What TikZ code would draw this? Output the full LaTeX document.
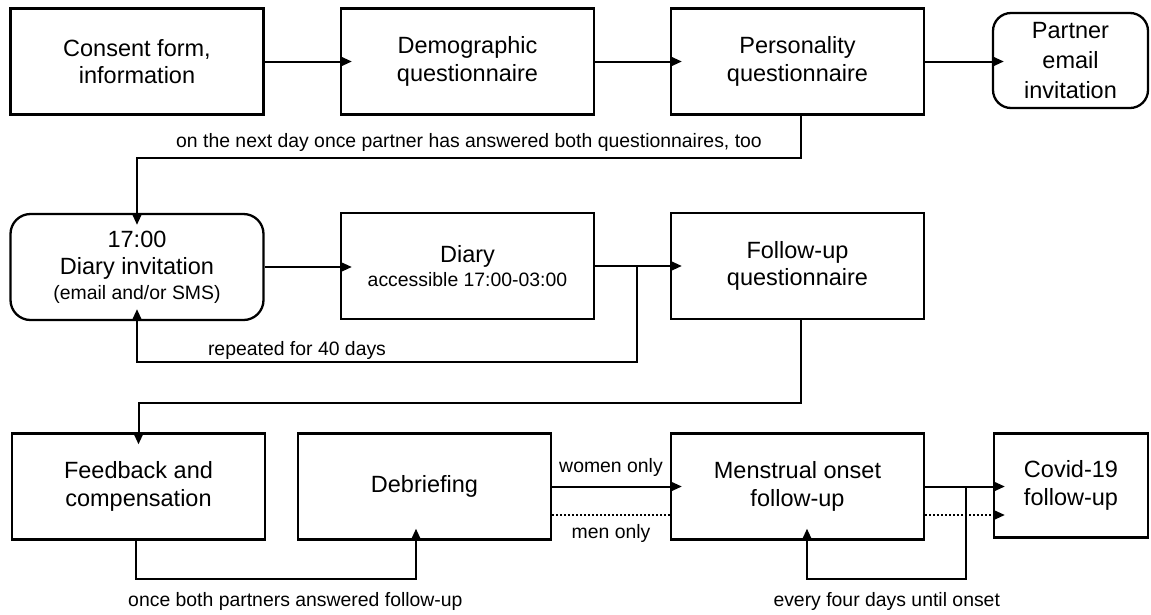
\documentclass[tikz,border=0pt]{standalone}
\usepackage{fontspec}
\setmainfont{Liberation Sans}
\usetikzlibrary{arrows.meta,calc}
\newcommand\bigf{\fontsize{23.5}{27.5}\selectfont}
\newcommand\smf{\fontsize{19.4}{23}\selectfont}
\begin{document}
\begin{tikzpicture}[x=1pt,y=-1pt,
  box/.style={draw, line width=2.3pt, fill=white, minimum width=253pt, minimum height=106pt, align=center, font=\bigf, inner sep=0pt},
  rbox/.style={box, rounded corners=18pt},
  conn/.style={line width=2pt},
  arr/.style={conn, -{Triangle[length=10pt,width=8.5pt]}, shorten >=-12pt},
  dot/.style={conn, dash pattern=on 2pt off 2pt},
  lab/.style={font=\smf, inner sep=1pt}
]
\useasboundingbox (0,0) rectangle (1151,614);
% row 1
\node[box] (consent) at (137,61.5) {Consent form,\\information};
\node[box] (demog) at (467.5,61.5) {Demographic\\questionnaire};
\node[box] (person) at (797.5,61.5) {Personality\\questionnaire};
\node[rbox, minimum width=155pt, minimum height=95pt, font=\fontsize{23.5}{30}\selectfont] (partner) at (1070.5,60.5) {Partner\\email\\invitation};
% row 2
\node[rbox, rounded corners=20pt] (diaryinv) at (137,267) {17:00\\Diary invitation\\[-3pt]{\smf (email and/or SMS)}};
\node[box] (diary) at (467.5,266) {Diary\\[-4pt]{\smf accessible 17:00-03:00}};
\node[box] (follow) at (797.5,266) {Follow-up\\questionnaire};
% row 3
\node[box] (feedback) at (138.5,486.5) {Feedback and\\compensation};
\node[box] (debrief) at (424.5,486.5) {Debriefing};
\node[box] (menstr) at (797.5,486.5) {Menstrual onset\\follow-up};
\node[box, minimum width=154pt, minimum height=104pt] (covid) at (1071,485.5) {Covid-19\\follow-up};
% bend levels
\coordinate (r1) at (0,158);
\coordinate (r2) at (0,362);
\coordinate (r3) at (0,403);
\coordinate (r4) at (0,579);
% row 1 arrows
\draw[arr] (consent.east) -- (demog.west);
\draw[arr] (demog.east) -- (person.west);
\draw[arr] (person.east) -- (person.east -| partner.west);
% to diary invitation
\draw[arr] ([xshift=3.5pt]person.south) -- ([xshift=3.5pt]person.south |- r1)
  -- node[lab, above=4pt, pos=0.5]{on the next day once partner has answered both questionnaires, too} (diaryinv.north |- r1) -- (diaryinv.north);
% row 2
\draw[arr] (diaryinv.east) -- (diaryinv.east -| diary.west);
\coordinate (j1) at ($(diary.east)!0.56!(follow.west)$);
\draw[arr] (diary.east) -- (follow.west);
\draw[arr] (j1) -- (j1 |- r2) -- node[lab, above=0pt, pos=0.68]{repeated for 40 days} (diaryinv.south |- r2) -- (diaryinv.south);
% follow-up to feedback
\draw[arr] ([xshift=3.5pt]follow.south) -- ([xshift=3.5pt]follow.south |- r3) -- (feedback.north |- r3) -- (feedback.north);
% feedback to debriefing
\draw[arr] ([xshift=-3pt]feedback.south) -- ([xshift=-3pt]feedback.south |- r4)
  -- node[lab, below=11pt, pos=0.57]{once both partners answered follow-up} ([xshift=-8.5pt]debrief.south |- r4) -- ([xshift=-8.5pt]debrief.south);
% debriefing to menstrual
\draw[arr] (debrief.east) -- node[lab, above=8pt]{women only} (debrief.east -| menstr.west);
\draw[dot] ([yshift=-28.5pt]debrief.east) -- node[lab, below=7pt]{men only} ([yshift=-28.5pt]debrief.east -| menstr.west);
% menstrual to covid
\draw[arr] (menstr.east) -- (menstr.east -| covid.west);
\draw[dot, -{Triangle[length=10pt,width=8.5pt]}, shorten >=-12pt] ([yshift=-28.5pt]menstr.east) -- ([yshift=-28.5pt]menstr.east -| covid.west);
\coordinate (j2) at ($(menstr.east)!0.61!(menstr.east -| covid.west)$);
\draw[arr] (j2) -- (j2 |- r4) -- node[lab, below=11pt]{every four days until onset} ([xshift=9.5pt]menstr.south |- r4) -- ([xshift=9.5pt]menstr.south);
\end{tikzpicture}
\end{document}
